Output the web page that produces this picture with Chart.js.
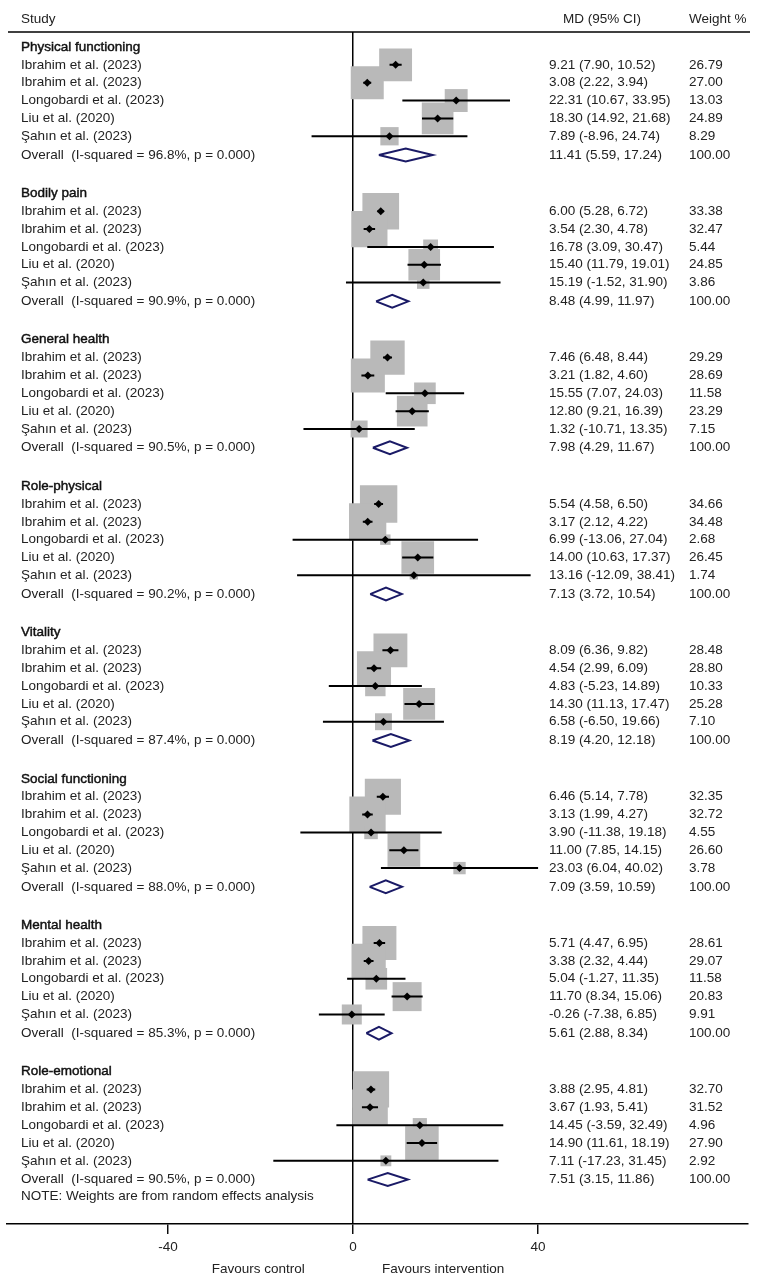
<!DOCTYPE html>
<html>
<head>
<meta charset="utf-8">
<title>Forest plot</title>
<script src="https://cdn.jsdelivr.net/npm/chart.js@4.4.1/dist/chart.umd.min.js"></script>
<style>
  html, body { margin: 0; padding: 0; background: #fff; overflow: hidden; }
  #wrap { width: 758px; height: 1285px; position: relative; }
</style>
</head>
<body>
<div id="wrap"><canvas id="forest"></canvas></div>
<script>
const outcomes = ["Physical functioning", "Bodily pain", "General health", "Role-physical",
  "Vitality", "Social functioning", "Mental health", "Role-emotional"];
const studies = ["Ibrahim et al. (2023)", "Ibrahim et al. (2023)", "Longobardi et al. (2023)",
  "Liu et al. (2020)", "Şahın et al. (2023)"];

// mean difference per outcome, one value per study
const mdValues = [
  [9.21, 3.08, 22.31, 18.30, 7.89],
  [6.00, 3.54, 16.78, 15.40, 15.19],
  [7.46, 3.21, 15.55, 12.80, 1.32],
  [5.54, 3.17, 6.99, 14.00, 13.16],
  [8.09, 4.54, 4.83, 14.30, 6.58],
  [6.46, 3.13, 3.90, 11.00, 23.03],
  [5.71, 3.38, 5.04, 11.70, -0.26],
  [3.88, 3.67, 14.45, 14.90, 7.11]
];
const lowerCI = [
  [7.90, 2.22, 10.67, 14.92, -8.96],
  [5.28, 2.30, 3.09, 11.79, -1.52],
  [6.48, 1.82, 7.07, 9.21, -10.71],
  [4.58, 2.12, -13.06, 10.63, -12.09],
  [6.36, 2.99, -5.23, 11.13, -6.50],
  [5.14, 1.99, -11.38, 7.85, 6.04],
  [4.47, 2.32, -1.27, 8.34, -7.38],
  [2.95, 1.93, -3.59, 11.61, -17.23]
];
const upperCI = [
  [10.52, 3.94, 33.95, 21.68, 24.74],
  [6.72, 4.78, 30.47, 19.01, 31.90],
  [8.44, 4.60, 24.03, 16.39, 13.35],
  [6.50, 4.22, 27.04, 17.37, 38.41],
  [9.82, 6.09, 14.89, 17.47, 19.66],
  [7.78, 4.27, 19.18, 14.15, 40.02],
  [6.95, 4.44, 11.35, 15.06, 6.85],
  [4.81, 5.41, 32.49, 18.19, 31.45]
];
const weights = [
  [26.79, 27.00, 13.03, 24.89, 8.29],
  [33.38, 32.47, 5.44, 24.85, 3.86],
  [29.29, 28.69, 11.58, 23.29, 7.15],
  [34.66, 34.48, 2.68, 26.45, 1.74],
  [28.48, 28.80, 10.33, 25.28, 7.10],
  [32.35, 32.72, 4.55, 26.60, 3.78],
  [28.61, 29.07, 11.58, 20.83, 9.91],
  [32.70, 31.52, 4.96, 27.90, 2.92]
];
const overallMD = [11.41, 8.48, 7.98, 7.13, 8.19, 7.09, 5.61, 7.51];
const overallLower = [5.59, 4.99, 4.29, 3.72, 4.20, 3.59, 2.88, 3.15];
const overallUpper = [17.24, 11.97, 11.67, 10.54, 12.18, 10.59, 8.34, 11.86];
const iSquared = [96.8, 90.9, 90.5, 90.2, 87.4, 88.0, 85.3, 90.5];
const tickValues = [-40, 0, 40];

// layout
const FONT = '"Liberation Sans", Arial, Helvetica, sans-serif';
const FONT_SIZE = 13.5;
const TEXT_COLOR = "#222";
const ROW_PX = 17.85;
const GROUP_ROWS = 8.2;
const OVERALL_ROW = 6.05;
const TOP_PX = 32, FIRST_ROW_PX = 47, AXIS_PX = 1224;
const SQUARE_SCALE = 6.35;
const DIAMOND_HALF = 0.36;
const X_MIN = (7 - 353) / 4.625;
const X_MAX = (748 - 353) / 4.625;
const Y_MIN = -(FIRST_ROW_PX - TOP_PX) / ROW_PX;
const Y_MAX = Y_MIN + (AXIS_PX - TOP_PX) / ROW_PX;

const rowOf = (g, k) => g * GROUP_ROWS + k;
const fmt = v => v.toFixed(2);

const squarePts = [], markerPts = [], ciPts = [], diamondPts = [];
outcomes.forEach((name, g) => {
  studies.forEach((s, k) => {
    const yv = rowOf(g, k + 1);
    squarePts.push({ x: mdValues[g][k], y: yv, w: weights[g][k] });
    markerPts.push({ x: mdValues[g][k], y: yv });
    ciPts.push({ x: lowerCI[g][k], y: yv }, { x: upperCI[g][k], y: yv }, { x: null, y: null });
  });
  const yo = rowOf(g, OVERALL_ROW);
  diamondPts.push(
    { x: overallLower[g], y: yo },
    { x: overallMD[g], y: yo - DIAMOND_HALF },
    { x: overallUpper[g], y: yo },
    { x: overallMD[g], y: yo + DIAMOND_HALF },
    { x: overallLower[g], y: yo },
    { x: null, y: null }
  );
});

const textPlugin = {
  id: "forestText",
  afterDatasetsDraw(chart) {
    const { ctx, scales: { x, y } } = chart;
    ctx.save();
    ctx.font = `${FONT_SIZE}px ${FONT}`;
    ctx.fillStyle = TEXT_COLOR;
    ctx.textBaseline = "middle";
    ctx.textAlign = "left";

    // header row and rule
    ctx.fillText("Study", 21, 19);
    ctx.fillText("MD (95% CI)", 563, 19);
    ctx.fillText("Weight %", 689, 19);
    ctx.strokeStyle = "#000";
    ctx.lineWidth = 1.4;
    ctx.beginPath();
    ctx.moveTo(8, TOP_PX);
    ctx.lineTo(750, TOP_PX);
    ctx.stroke();

    outcomes.forEach((name, g) => {
      const hy = y.getPixelForValue(rowOf(g, 0));
      ctx.fillStyle = "#111";
      ctx.strokeStyle = "#111";
      ctx.lineWidth = 0.45;
      ctx.fillText(name, 21, hy);
      ctx.strokeText(name, 21, hy);
      ctx.fillStyle = TEXT_COLOR;
      studies.forEach((s, k) => {
        const py = y.getPixelForValue(rowOf(g, k + 1));
        ctx.fillText(s, 21, py);
        ctx.fillText(`${fmt(mdValues[g][k])} (${fmt(lowerCI[g][k])}, ${fmt(upperCI[g][k])})`, 549, py);
        ctx.fillText(fmt(weights[g][k]), 689, py);
      });
      const oy = y.getPixelForValue(rowOf(g, OVERALL_ROW));
      ctx.fillText(`Overall  (I-squared = ${iSquared[g].toFixed(1)}%, p = 0.000)`, 21, oy);
      ctx.fillText(`${fmt(overallMD[g])} (${fmt(overallLower[g])}, ${fmt(overallUpper[g])})`, 549, oy);
      ctx.fillText("100.00", 689, oy);
    });

    const noteY = y.getPixelForValue(rowOf(outcomes.length - 1, OVERALL_ROW + 0.95));
    ctx.fillText("NOTE: Weights are from random effects analysis", 21, noteY);

    ctx.textAlign = "center";
    ctx.fillText("Favours control", x.getPixelForValue(-20.5), 1269);
    ctx.fillText("Favours intervention", x.getPixelForValue(19.5), 1269);
    ctx.restore();
  }
};

new Chart(document.getElementById("forest"), {
  type: "scatter",
  data: {
    datasets: [
      {
        label: "Weight",
        data: squarePts,
        order: 4,
        pointStyle: "rect",
        backgroundColor: "#b9b9b9",
        borderWidth: 0,
        pointRadius: c => (c.raw ? SQUARE_SCALE * Math.sqrt(c.raw.w) / Math.SQRT2 : 0)
      },
      {
        label: "95% CI",
        data: ciPts,
        order: 3,
        showLine: true,
        spanGaps: false,
        borderColor: "#000",
        borderWidth: 2,
        pointRadius: 0
      },
      {
        label: "MD",
        data: markerPts,
        order: 2,
        pointStyle: "rectRot",
        backgroundColor: "#000",
        borderWidth: 0,
        pointRadius: 4
      },
      {
        label: "Overall",
        data: diamondPts,
        order: 1,
        showLine: true,
        spanGaps: false,
        borderColor: "#1a1a66",
        borderWidth: 2,
        borderJoinStyle: "miter",
        pointRadius: 0
      }
    ]
  },
  options: {
    responsive: true,
    maintainAspectRatio: false,
    animation: false,
    layout: { autoPadding: false, padding: { top: TOP_PX, left: 7, right: 10, bottom: 0 } },
    plugins: { legend: { display: false }, tooltip: { enabled: false } },
    scales: {
      x: {
        type: "linear",
        min: X_MIN,
        max: X_MAX,
        afterBuildTicks: scale => { scale.ticks = tickValues.map(v => ({ value: v })); },
        afterFit: scale => { scale.height = 1285 - AXIS_PX; },
        border: { display: true, color: "#000", width: 1.4 },
        grid: {
          drawOnChartArea: true,
          drawTicks: true,
          tickLength: 10,
          tickColor: "#000",
          tickWidth: 1.4,
          color: c => (c.tick && c.tick.value === 0 ? "#000" : "rgba(0,0,0,0)"),
          lineWidth: 1.5
        },
        ticks: {
          color: TEXT_COLOR,
          padding: 5,
          font: { family: FONT, size: FONT_SIZE }
        }
      },
      y: {
        type: "linear",
        display: false,
        reverse: true,
        min: Y_MIN,
        max: Y_MAX
      }
    }
  },
  plugins: [textPlugin]
});
</script>
</body>
</html>
